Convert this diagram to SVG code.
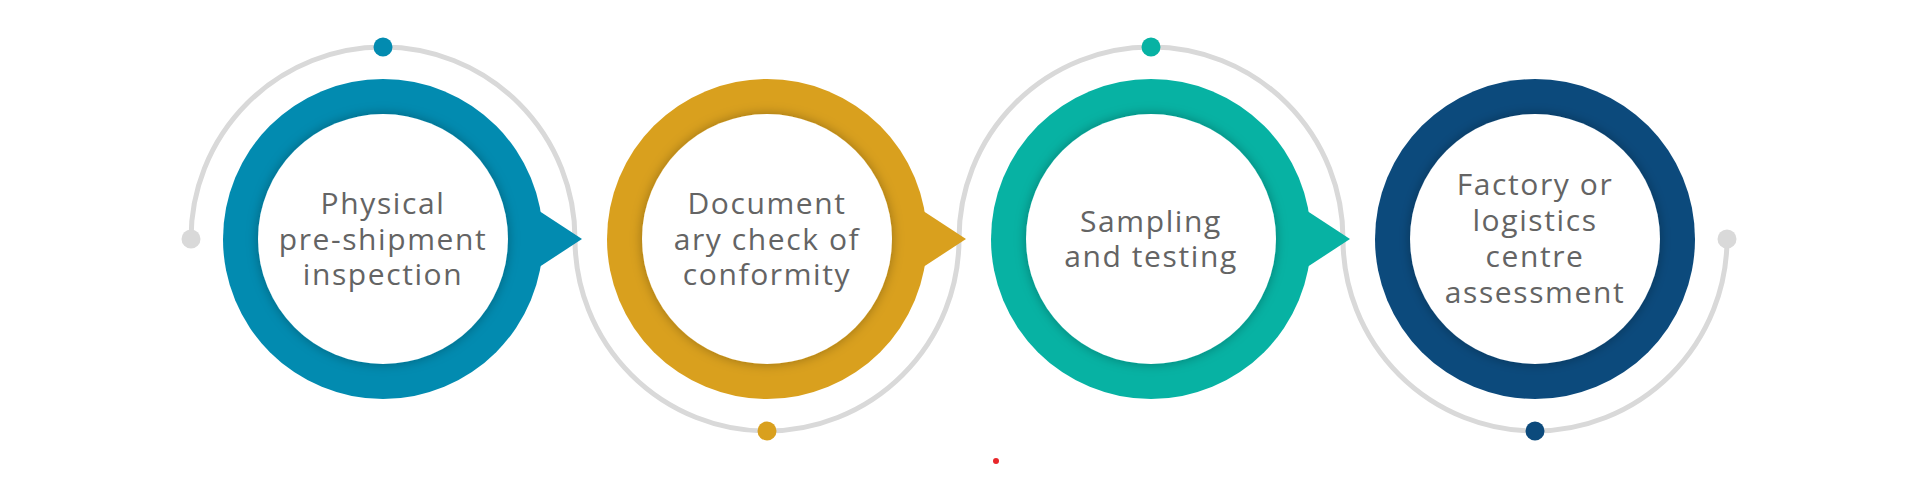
<svg xmlns="http://www.w3.org/2000/svg" width="1920" height="488" viewBox="0 0 1920 488">
<defs>
<style>
.track{fill:none;stroke:#d9d9d9;stroke-width:5}
.enddot{fill:#d9d9d9}
.inner{fill:#ffffff;filter:url(#sh)}
.lbl{font-family:"Open Sans","Liberation Sans",sans-serif;font-size:30px;font-weight:500;fill:#646464;text-anchor:middle;letter-spacing:1.6px}
.blue{fill:#028bb0}
.gold{fill:#d9a01e}
.teal{fill:#07b2a3}
.navy{fill:#0c4a7c}
</style>
<filter id="sh" x="-20%" y="-20%" width="140%" height="140%">
<feGaussianBlur in="SourceAlpha" stdDeviation="6" result="b"/>
<feFlood flood-color="#000" flood-opacity="0.3"/>
<feComposite in2="b" operator="in" result="s"/>
<feMerge><feMergeNode in="s"/><feMergeNode in="SourceGraphic"/></feMerge>
</filter>
</defs>
<rect width="1920" height="488" fill="#ffffff"/>
<g id="connectors">
<path class="track" d="M191,239 A192,192 0 0 1 575,239 A192,192 0 0 0 959,239 A192,192 0 0 1 1343,239 A192,192 0 0 0 1727,239"/>
<circle class="enddot" cx="191" cy="239" r="9.5"/>
<circle class="enddot" cx="1727" cy="239" r="9.5"/>
</g>
<g id="step1">
<circle class="blue" cx="383" cy="239" r="160"/>
<polygon class="blue" points="540,211.5 582,239 540,266.5"/>
<circle class="inner" cx="383" cy="239" r="125"/>
<circle class="blue" cx="383" cy="47" r="9.5"/>
<text class="lbl" x="383" y="214">Physical</text>
<text class="lbl" x="383" y="249.5">pre-shipment</text>
<text class="lbl" x="383" y="285">inspection</text>
</g>
<g id="step2">
<circle class="gold" cx="767" cy="239" r="160"/>
<polygon class="gold" points="924,211.5 966,239 924,266.5"/>
<circle class="inner" cx="767" cy="239" r="125"/>
<circle class="gold" cx="767" cy="431" r="9.5"/>
<text class="lbl" x="767" y="214">Document</text>
<text class="lbl" x="767" y="249.5">ary check of</text>
<text class="lbl" x="767" y="285">conformity</text>
</g>
<g id="step3">
<circle class="teal" cx="1151" cy="239" r="160"/>
<polygon class="teal" points="1308,211.5 1350,239 1308,266.5"/>
<circle class="inner" cx="1151" cy="239" r="125"/>
<circle class="teal" cx="1151" cy="47" r="9.5"/>
<text class="lbl" x="1151" y="231.5">Sampling</text>
<text class="lbl" x="1151" y="267">and testing</text>
</g>
<g id="step4">
<circle class="navy" cx="1535" cy="239" r="160"/>
<circle class="inner" cx="1535" cy="239" r="125"/>
<circle class="navy" cx="1535" cy="431" r="9.5"/>
<text class="lbl" x="1535" y="195">Factory or</text>
<text class="lbl" x="1535" y="231">logistics</text>
<text class="lbl" x="1535" y="267">centre</text>
<text class="lbl" x="1535" y="303">assessment</text>
</g>
<circle cx="996" cy="461" r="3" fill="#e8262a"/>
</svg>
